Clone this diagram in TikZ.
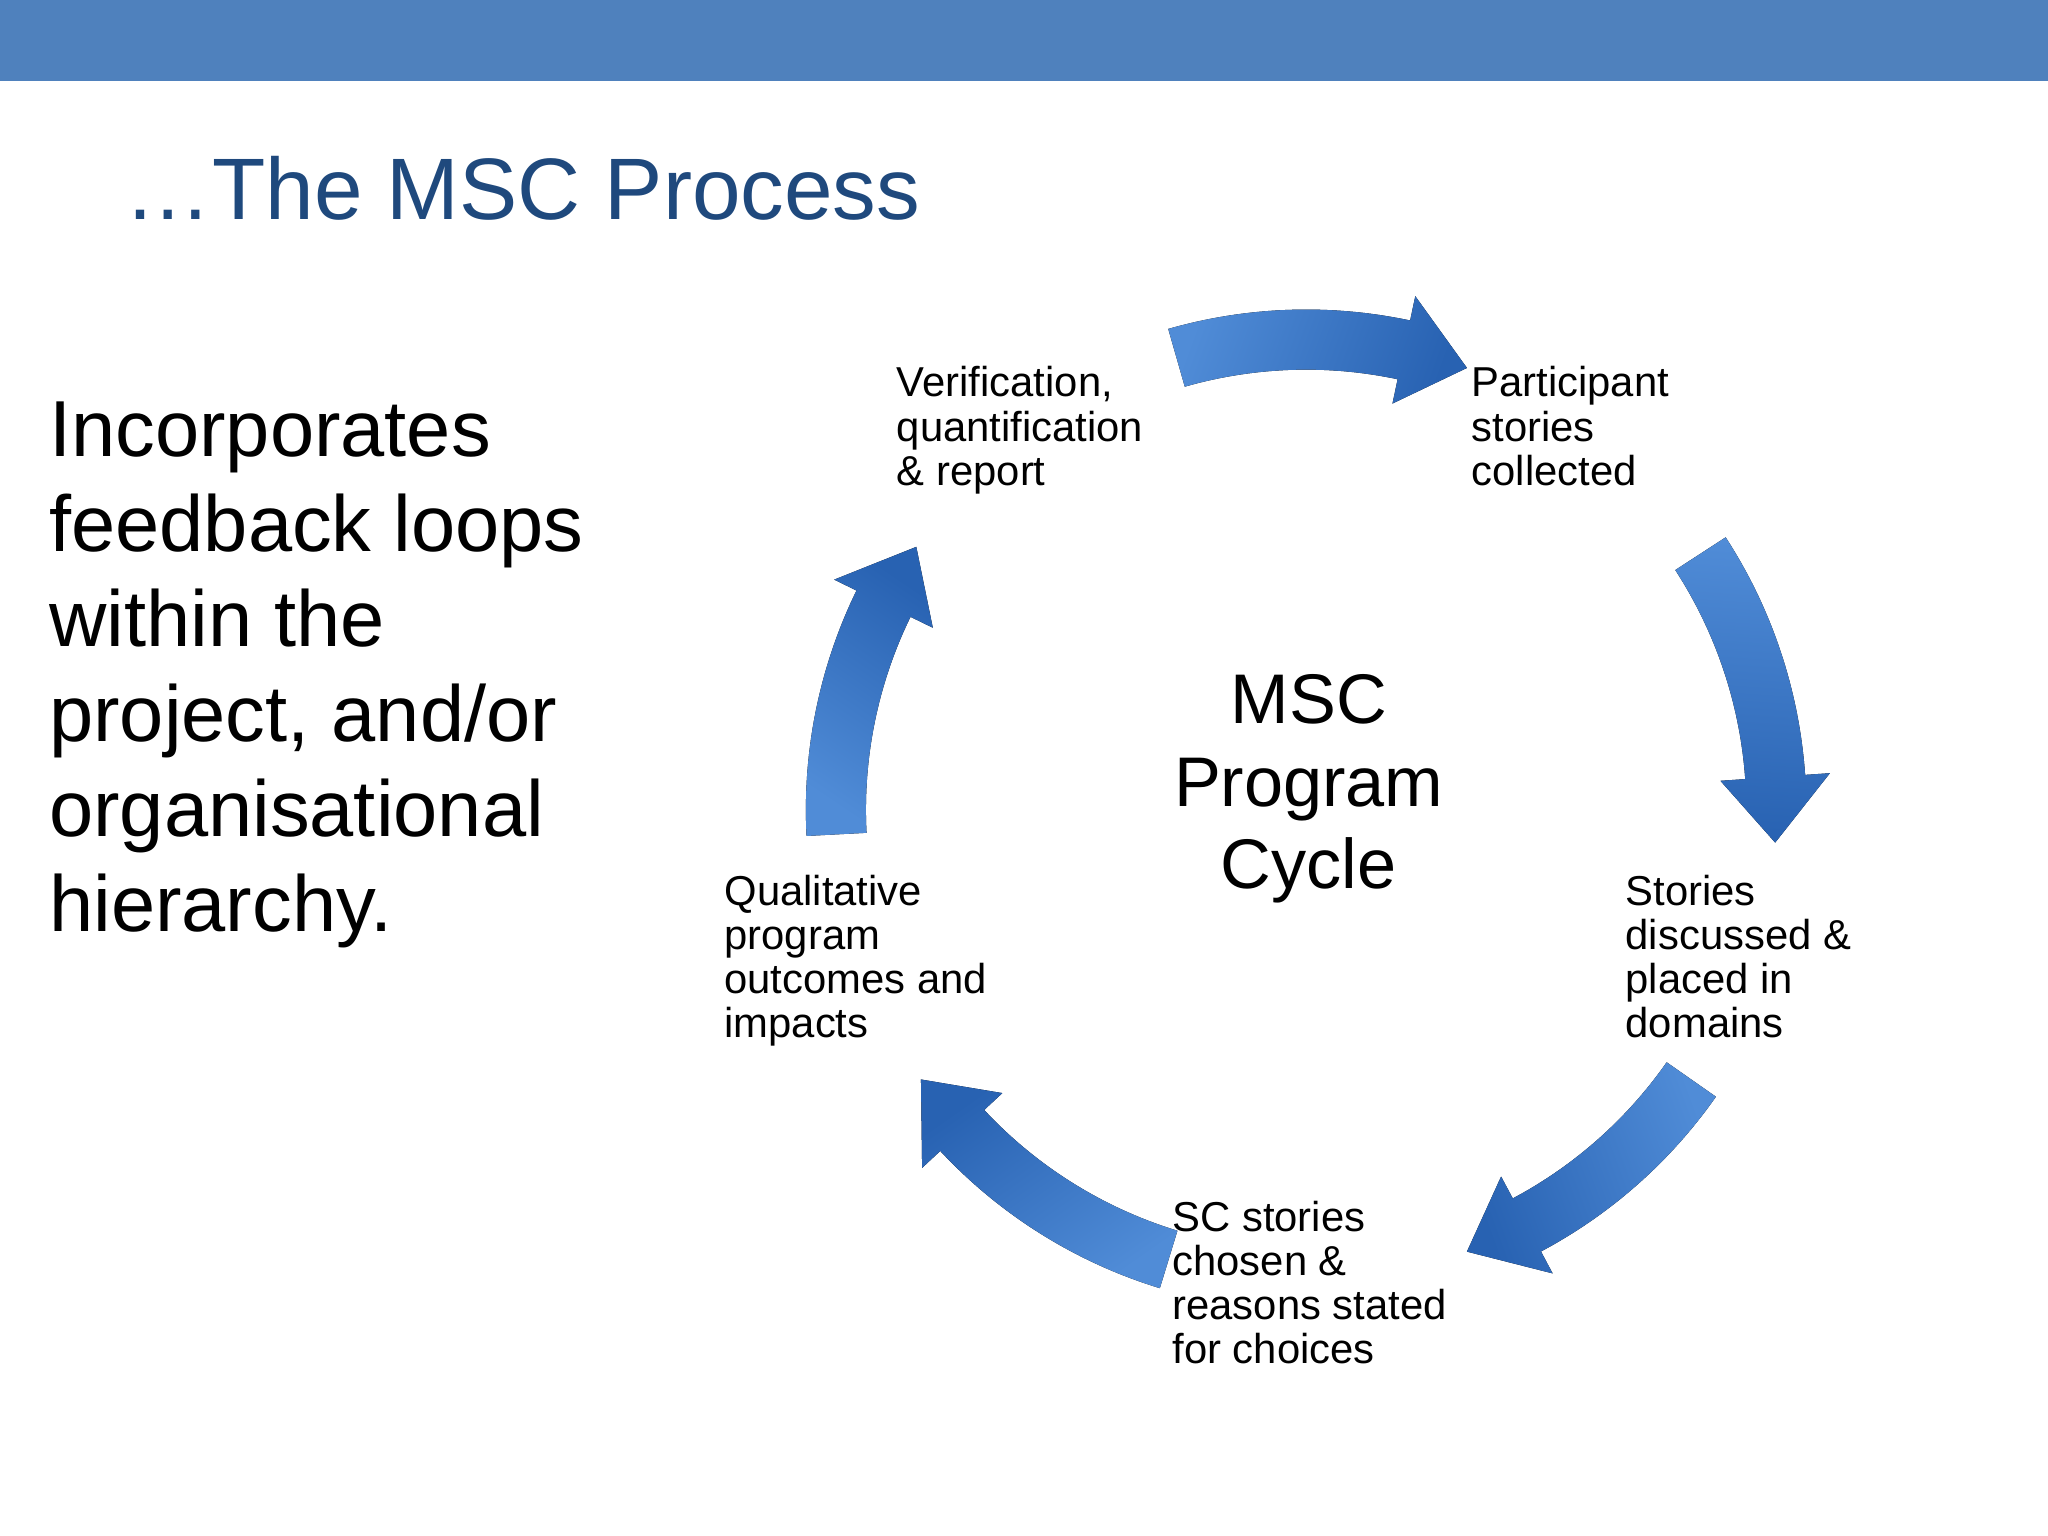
\documentclass[tikz,border=0pt]{standalone}
\usepackage{fontspec}
\setmainfont{Liberation Sans}
\definecolor{barblue}{RGB}{79,129,189}
\definecolor{titleblue}{RGB}{31,73,125}
\definecolor{arrowdark}{RGB}{40,98,178}
\definecolor{arrowlight}{RGB}{80,140,215}
% curved clockwise arrow around the cycle centre: #1 start angle, #2 end angle
\newcommand\cycarrow[2]{%
  \pgfmathsetmacro\hb{#2+8}%
  \fill[shading=axis,left color=arrowlight,right color=arrowdark,shading angle=#2]
    (#1:383) arc[start angle=#1,end angle=\hb,radius=383]
    -- (\hb:402) -- (#2:360) -- (\hb:318) -- (\hb:337)
    arc[start angle=\hb,end angle=#1,radius=337] -- cycle;}
\begin{document}
\begin{tikzpicture}[x=0.01cm,y=-0.01cm,
    lbl/.style={anchor=north west,align=left,font=\fontsize{9.1}{9.6}\selectfont,inner sep=0pt}]
  \useasboundingbox (0,0) rectangle (1568,1176);
  \fill[barblue] (0,0) rectangle (1568,62);
  \node[anchor=base west,inner sep=0pt,text=titleblue,font=\fontsize{19}{22}\selectfont]
    (title) at (95,168) {\dots The MSC Process};
  \node[anchor=north west,align=left,inner sep=0pt,font=\fontsize{17.3}{20.7}\selectfont]
    (intro) at (37,307) {Incorporates\\feedback loops\\within the\\project, and/or\\organisational\\hierarchy.};
  \begin{scope}[shift={(1000,620)},yscale=-1]
    \cycarrow{106}{70}
    \cycarrow{33}{-4}
    \cycarrow{-35}{-70}
    \cycarrow{-107}{-145}
    \cycarrow{183}{146}
  \end{scope}
  \node[align=center,font=\fontsize{15.3}{17.9}\selectfont] (centre) at (1002,604) {MSC\\Program\\Cycle};
  \node[lbl] (verif) at (686,280) {Verification,\\quantification\\\& report};
  \node[lbl] (partic) at (1126,280) {Participant\\stories\\collected};
  \node[lbl] (stories) at (1244,669) {Stories\\discussed \&\\placed in\\domains};
  \node[lbl] (chosen) at (897,919) {SC stories\\chosen \&\\reasons stated\\for choices};
  \node[lbl] (qual) at (554,669) {Qualitative\\program\\outcomes and\\impacts};
\end{tikzpicture}
\end{document}
